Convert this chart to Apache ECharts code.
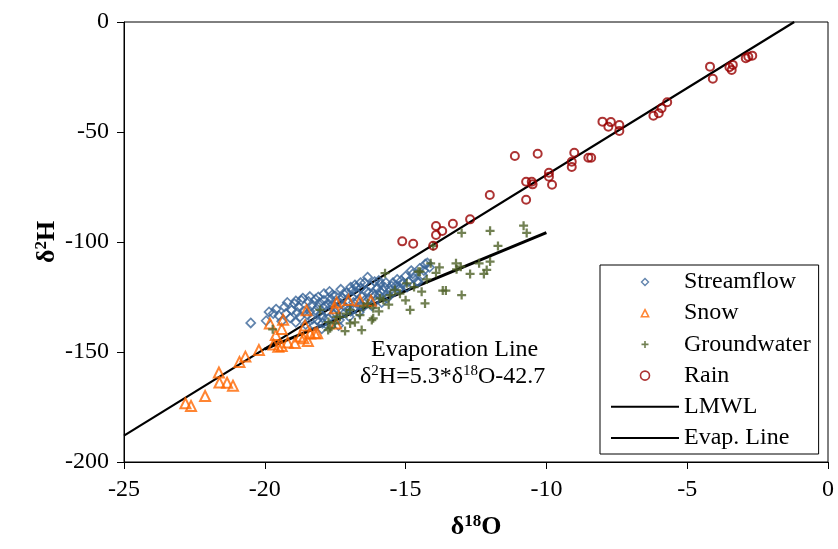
<!DOCTYPE html>
<html>
<head>
<meta charset="utf-8">
<script src="https://cdn.jsdelivr.net/npm/echarts@6/dist/echarts.min.js"></script>
<style>
  html, body { margin: 0; padding: 0; background: #fff; }
  #chart { width: 838px; height: 549px; }
</style>
</head>
<body>
<div id="chart"></div>
<script>
// Isotope samples: [δ18O, δ2H] (‰)
const streamflow = [
  [-20.5,-136.8],[-19.95,-135.8],[-19.85,-131.8],[-19.6,-130.5],[-19.5,-133.5],[-19.4,-136],
  [-19.3,-129.5],[-19.2,-127.5],[-19.1,-134.5],[-19.05,-131],[-18.95,-128],[-18.9,-136.5],
  [-18.8,-129.5],[-18.75,-134],[-18.7,-126.5],[-18.6,-131.5],[-18.55,-137.5],[-18.5,-133],
  [-18.45,-127],[-18.35,-129],[-18.3,-135],[-18.25,-138],[-18.2,-131],[-18.15,-135.5],
  [-18.1,-125],[-18.05,-127.5],[-18.0,-133],[-17.98,-139.5],[-17.95,-137],[-17.9,-123.5],
  [-17.85,-129],[-17.8,-131.5],[-17.75,-135],[-17.7,-122.5],[-17.68,-137.5],[-17.65,-126],
  [-17.6,-128.5],[-17.55,-133],[-17.5,-124.5],[-17.45,-130],[-17.4,-127],[-17.38,-138],
  [-17.35,-135.5],[-17.3,-121.5],[-17.25,-125.5],[-17.2,-129],[-17.15,-132],[-17.1,-123],
  [-17.05,-127.5],[-17.0,-134],[-16.95,-120.5],[-16.9,-125],[-16.85,-130.5],[-16.8,-119.5],
  [-16.75,-123],[-16.7,-127],[-16.65,-132],[-16.6,-121],[-16.55,-125],[-16.5,-129.5],
  [-16.45,-118.5],[-16.4,-122.5],[-16.35,-116],[-16.3,-126],[-16.25,-120],[-16.2,-129],
  [-16.15,-123.5],[-16.1,-118],[-16.05,-126.5],[-16.0,-121],[-15.95,-124],[-15.9,-119],
  [-15.85,-127.5],[-15.8,-122],[-15.7,-118.5],[-15.65,-125.5],[-15.6,-124.5],[-15.5,-120],
  [-15.45,-118.5],[-15.4,-122.5],[-15.3,-117],[-15.25,-121.5],[-15.2,-121],[-15.1,-119],
  [-15.0,-115.5],[-14.9,-118],[-14.8,-113],[-14.7,-116.5],[-14.6,-118],[-14.55,-118.2],
  [-14.5,-112],[-14.4,-115],[-14.3,-110],[-14.23,-109.5],[-14.15,-111.5],[-18.65,-125.5],
  [-18.4,-124.8],[-17.9,-126.5],[-17.2,-123.5],[-16.9,-122],[-16.6,-118.5],[-19.7,-132.5],
  [-19.25,-132.5],[-18.85,-132],[-18.4,-131.5],[-18.1,-129.5],[-17.95,-134.5],[-17.75,-128],
  [-17.5,-132],[-17.3,-128],[-17.1,-130],[-16.95,-131.5],[-16.85,-127.5],[-16.6,-129],
  [-16.45,-126.5],[-16.3,-123],[-16.1,-124.5],[-15.9,-122.5],[-15.75,-120.5],[-15.55,-122],
  [-15.35,-120],[-15.15,-117.5],[-14.95,-120.5],[-14.75,-114.5],[-18.9,-126.8],[-18.2,-126],
  [-17.6,-124],[-16.75,-120.5],[-15.95,-117.5],[-14.35,-113]
];
const snow = [
  [-22.82,-173.3],[-22.62,-174.5],[-22.12,-170.0],[-21.63,-159.3],[-21.61,-163.9],[-21.34,-164.0],
  [-21.13,-165.3],[-20.9,-154.5],[-20.69,-152.1],[-20.21,-149.1],[-19.82,-137.0],[-19.69,-146.6],
  [-19.61,-142.3],[-19.4,-139.5],[-19.35,-135.3],[-19.4,-147.3],[-19.19,-145.7],[-19.52,-147.6],
  [-18.93,-145.9],[-18.75,-143.0],[-18.63,-143.8],[-18.57,-138.0],[-18.52,-131.0],[-18.47,-145.0],
  [-18.39,-141.6],[-18.22,-141.5],[-18.14,-141.5],[-17.45,-127.5],[-17.51,-130.1],[-17.47,-137.0],
  [-17.03,-126.4],[-16.62,-126.7],[-16.23,-126.7]
];
const groundwater = [
  [-13.01,-95.9],[-12.0,-94.9],[-10.81,-92.6],[-10.7,-95.9],[-11.72,-101.8],[-14.02,-101.8],
  [-14.11,-109.7],[-13.92,-114.0],[-13.21,-109.7],[-13.19,-112.4],[-13.04,-111.2],[-12.71,-114.5],
  [-12.39,-109.7],[-12.12,-112.7],[-12.22,-114.5],[-12.0,-108.9],[-13.68,-122.1],[-13.57,-122.1],
  [-13.01,-124.1],[-14.31,-127.9],[-14.49,-113.5],[-14.96,-118.8],[-14.43,-122.6],[-15.38,-121.8],
  [-15.79,-126.4],[-16.15,-130.1],[-16.2,-135.5],[-16.62,-133.2],[-15.73,-114.2],[-14.55,-113.5],
  [-14.84,-130.9],[-15.55,-124.1],[-15.91,-125.6],[-16.5,-129.4],[-16.97,-130.9],[-17.45,-134.0],
  [-17.51,-137.0],[-16.97,-137.0],[-16.15,-134.7],[-16.56,-140.0],[-19.72,-139.7],[-18.04,-130.9],
  [-17.68,-139.2],[-17.33,-134.0],[-17.74,-136.4],[-17.75,-140.0],[-15.2,-123.5],[-15.0,-126.5],
  [-14.7,-120.5],[-16.8,-136.5],[-17.1,-132.5],[-16.35,-128],[-15.6,-128.5],[-14.25,-117],
  [-13.8,-111.5],[-15.95,-131.5],[-17.15,-140.5]
];
const rain = [
  [-15.12,-99.7],[-14.73,-100.8],[-14.02,-101.7],[-13.92,-92.7],[-13.92,-96.8],[-13.7,-95.0],
  [-13.32,-91.7],[-12.71,-89.7],[-12.01,-78.6],[-11.12,-60.9],[-10.72,-72.6],[-10.72,-80.8],
  [-10.52,-72.6],[-10.49,-73.8],[-10.31,-59.9],[-9.91,-68.5],[-9.91,-70.3],[-9.8,-74.0],
  [-9.1,-63.5],[-9.1,-65.9],[-9.01,-59.4],[-8.51,-61.7],[-8.41,-61.7],[-8.01,-45.3],
  [-7.8,-47.6],[-7.71,-45.5],[-7.41,-46.8],[-7.41,-49.5],[-6.2,-42.6],[-6.01,-41.5],
  [-5.91,-39.2],[-5.71,-36.5],[-4.19,-20.3],[-4.09,-25.8],[-3.5,-20.6],[-3.38,-19.5],
  [-3.42,-21.8],[-2.92,-16.5],[-2.83,-15.8],[-2.69,-15.3]
];
// Local meteoric water line end points
const lmwlLine = [[-25, -188], [-1.2, 0]];
// Evaporation line: δ2H = 5.3*δ18O - 42.7, over this δ18O span
const evapSlope = 5.3;
const evapIntercept = -42.7;
const evapSpan = [-20, -10];
const evapLine = evapSpan.map(x => [x, +(evapSlope * x + evapIntercept).toFixed(2)]);

const xTicks = { min: -25, max: 0, step: 5 };
const yTicks = { min: -200, max: 0, step: 50 };

const SERIF = '"Liberation Serif", "Times New Roman", serif';
const PLUS = 'path://M3,0H5V3H8V5H5V8H3V5H0V3H3Z';

// Legend keys: a small marker centred in a 68×9 key box (the leading moves pin the box size)
const KEY_BOX = 'M0,0M68,9';
const KEY_DIAMOND = 'path://' + KEY_BOX + 'M30.5,4.5L34,1L37.5,4.5L34,8Z';
const KEY_TRIANGLE = 'path://' + KEY_BOX + 'M34,1L37.6,8L30.4,8Z';
const KEY_PLUS = 'path://' + KEY_BOX + 'M33.2,1H34.8V3.7H37.5V5.3H34.8V8H33.2V5.3H30.5V3.7H33.2Z';

const COLORS = {
  streamflow: '#3A6599',
  snow: '#FF6600',
  groundwater: '#4F6228',
  rain: '#990000'
};

const chart = echarts.init(document.getElementById('chart'), null, { renderer: 'canvas' });

const hollow = (color, w) => ({ color: 'rgba(0,0,0,0)', borderColor: color, borderWidth: w });
const axisTitle = {
  a: { fontFamily: SERIF, fontSize: 26, fontWeight: 'bold', color: '#000', lineHeight: 28 },
  s: { fontFamily: SERIF, fontSize: 17, fontWeight: 'bold', color: '#000', verticalAlign: 'top', lineHeight: 17 }
};
const noMarker = { color: 'rgba(0,0,0,0)', borderWidth: 0 };

chart.setOption({
  animation: false,
  backgroundColor: '#fff',
  grid: {
    left: 124, right: 10, top: 22, bottom: 87,
    show: true, borderColor: '#000', borderWidth: 1, backgroundColor: '#fff'
  },
  xAxis: {
    type: 'value',
    min: xTicks.min, max: xTicks.max, interval: xTicks.step,
    name: '{a|δ}{s|18}{a|O}',
    nameLocation: 'middle',
    nameGap: 51,
    nameMoveOverlap: false,
    nameTextStyle: { rich: axisTitle },
    axisLine: { onZero: false, lineStyle: { color: '#000', width: 1 } },
    axisTick: { show: true, inside: false, length: 7, lineStyle: { color: '#000' } },
    axisLabel: { margin: 16, fontFamily: SERIF, fontSize: 24, color: '#000' },
    splitLine: { show: false }
  },
  yAxis: {
    type: 'value',
    min: yTicks.min, max: yTicks.max, interval: yTicks.step,
    name: '{a|δ}{s|2}{a|H}',
    nameLocation: 'middle',
    nameRotate: 90,
    nameGap: 63,
    nameMoveOverlap: false,
    nameTextStyle: { rich: axisTitle },
    axisLine: { onZero: false, lineStyle: { color: '#000', width: 1 } },
    axisTick: { show: true, inside: false, length: 7, lineStyle: { color: '#000' } },
    axisLabel: { margin: 15, fontFamily: SERIF, fontSize: 24, color: '#000' },
    splitLine: { show: false }
  },
  legend: {
    orient: 'vertical',
    left: 600, top: 265,
    padding: [5, 8, 4, 10],
    itemWidth: 68, itemHeight: 9, itemGap: 7.2,
    borderColor: '#000', borderWidth: 1, backgroundColor: '#fff',
    textStyle: { fontFamily: SERIF, fontSize: 24, color: '#000' },
    data: [
      { name: 'Streamflow', icon: KEY_DIAMOND, itemStyle: hollow(COLORS.streamflow, 1.4) },
      { name: 'Snow', icon: KEY_TRIANGLE, itemStyle: hollow(COLORS.snow, 1.6) },
      { name: 'Groundwater', icon: KEY_PLUS, itemStyle: { color: COLORS.groundwater, borderWidth: 0 } },
      { name: 'Rain', icon: 'circle', itemStyle: hollow(COLORS.rain, 1.6) },
      { name: 'LMWL', itemStyle: noMarker },
      { name: 'Evap. Line', itemStyle: noMarker }
    ]
  },
  series: [
    {
      name: 'Streamflow', type: 'scatter', z: 3,
      symbol: 'diamond', symbolSize: 9,
      itemStyle: hollow(COLORS.streamflow, 1.7),
      data: streamflow
    },
    {
      name: 'Snow', type: 'scatter', z: 4,
      symbol: 'triangle', symbolSize: 10,
      itemStyle: hollow(COLORS.snow, 2),
      data: snow
    },
    {
      name: 'Groundwater', type: 'scatter', z: 5,
      symbol: PLUS, symbolSize: 9,
      itemStyle: { color: COLORS.groundwater },
      data: groundwater
    },
    {
      name: 'Rain', type: 'scatter', z: 6,
      symbol: 'circle', symbolSize: 8,
      itemStyle: hollow(COLORS.rain, 2),
      data: rain
    },
    {
      name: 'LMWL', type: 'line', z: 2,
      symbol: 'none', showSymbol: false,
      lineStyle: { color: '#000', width: 2.2 },
      itemStyle: { color: '#000' },
      data: lmwlLine
    },
    {
      name: 'Evap. Line', type: 'line', z: 2,
      symbol: 'none', showSymbol: false,
      lineStyle: { color: '#000', width: 3 },
      itemStyle: { color: '#000' },
      data: evapLine
    }
  ],
  graphic: [
    {
      type: 'text', left: 371, top: 338, z: 10,
      style: { text: 'Evaporation Line', font: '24px ' + SERIF, fill: '#000' }
    },
    {
      type: 'text', left: 360, top: 364, z: 10,
      style: {
        text: '{n|δ}{s|2}{n|H=5.3*δ}{s|18}{n|O-42.7}',
        rich: {
          n: { fontFamily: SERIF, fontSize: 24, fill: '#000', lineHeight: 26 },
          s: { fontFamily: SERIF, fontSize: 15, fill: '#000', verticalAlign: 'top', lineHeight: 15 }
        }
      }
    }
  ]
});
</script>
</body>
</html>
